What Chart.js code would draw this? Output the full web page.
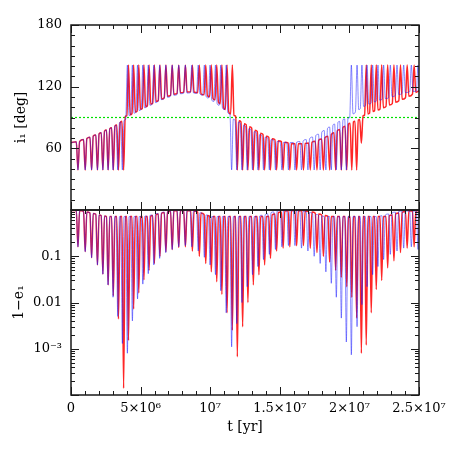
<!DOCTYPE html>
<html>
<head>
<meta charset="utf-8">
<script src="https://cdn.jsdelivr.net/npm/chart.js@4.4.1/dist/chart.umd.min.js"></script>
<style>
html,body{margin:0;padding:0;background:#fff;}
#wrap{position:relative;width:458px;height:458px;}
canvas{position:absolute;left:0;top:0;}
</style>
</head>
<body>
<div id="wrap"><canvas id="cTop" width="458" height="458"></canvas><canvas id="cBot" width="458" height="458"></canvas></div>
<script>
// ---------- tick labels ----------
const xTickValues = [0, 5e6, 1e7, 1.5e7, 2e7, 2.5e7];
const xTickLabels = ['0', '5×10⁶', '10⁷', '1.5×10⁷', '2×10⁷', '2.5×10⁷'];
const inclTickValues = [60, 120, 180];
const inclTickLabels = ['60', '120', '180'];
const eccTickValues = [0.1, 0.01, 0.001];
const eccTickLabels = ['0.1', '0.01', '10⁻³'];
const flipInclination = 90;

// ---------- red run: time (Myr), inclination (deg), 1-e ----------
const redTimeMyr = [0.00,0.38,
0.50,0.62,0.90, 1.02,1.14,1.36, 1.48,1.60,1.78, 1.90,2.02,2.17, 2.29,2.41,2.55,
2.67,2.79,2.92, 3.04,3.16,3.29, 3.41,3.53,3.66, 3.78,3.90,4.01, 4.13,4.25,4.38,
4.50,4.62,4.75, 4.87,4.99,5.12, 5.24,5.36,5.49, 5.61,5.73,5.87, 5.99,6.11,6.27,
6.39,6.51,6.70, 6.82,6.94,7.15, 7.27,7.39,7.62, 7.74,7.86,8.10, 8.22,8.34,8.60,
8.72,8.84,9.10, 9.22,9.34,9.56, 9.68,9.80,9.96, 10.08,10.20,10.35, 10.47,10.59,10.72,
10.84,10.96,11.09, 11.21,11.33,11.47, 11.59,11.71,11.83, 11.95,12.07,12.21, 12.33,12.45,12.59,
12.71,12.83,12.98, 13.10,13.22,13.38, 13.50,13.62,13.79, 13.91,14.03,14.21, 14.33,14.45,14.65,
14.77,14.89,15.12, 15.24,15.36,15.60, 15.72,15.84,16.09, 16.21,16.33,16.58, 16.70,16.82,17.07,
17.19,17.31,17.55, 17.67,17.79,18.01, 18.13,18.25,18.46, 18.58,18.70,18.89, 19.01,19.13,19.30,
19.42,19.54,19.69, 19.81,19.93,20.05, 20.17,20.29,20.40, 20.52,20.64,20.74, 20.86,20.98,21.09,
21.21,21.33,21.45, 21.57,21.69,21.81, 21.93,22.05,22.20, 22.32,22.44,22.63, 22.75,22.87,23.08,
23.20,23.32,23.55, 23.67,23.79,24.03, 24.15,24.27,24.53, 24.65,24.77,25.00];
const redIncl = [65.5,66.3,
39,66.7,68.5, 39,69.5,70.8, 39,72,73, 39,74.2,75.2, 39,76.8,77.8,
39,79.2,80, 39,81.8,82.8, 39,84.8,86.3, 39,91,91.7, 141,92.6,93.8,
141,95.3,96.2, 141,98,98.8, 141,100.5,101.4, 141,103,104, 141,105.7,106.6,
141,108,109.2, 141,110.6,111.6, 141,112.6,113.4, 141,114.1,114.7, 141,114.9,115,
141,114.8,114.1, 141,113.2,112.1, 141,111.2,110.3, 141,108.4,107.2, 141,105.1,103.4,
141,99.5,97.8, 141,95.6,93.4, 141,92,91.2, 39,86.8,85.8, 39,84,82.8,
39,81,79.7, 39,77.7,76.5, 39,74.7,73.5, 39,71.8,70.7, 39,69.3,68.4,
39,67.4,66.6, 39,65.9,65.3, 39,64.8,64.5, 39,64.5,64.5, 39,64.8,65.2,
39,65.9,66.9, 39,67.9,69, 39,70.5,71.8, 39,73.4,75.2, 39,77,78.4,
39,80.3,81.5, 39,83.5,84.4, 39,85.7,86.4, 39,87.6,88, 65,91.7,92.3,
141,93.4,94.2, 141,95.9,96.5, 141,97.3,98.2, 141,99.6,100.8, 141,102.2,103.5,
141,104.9,106.3, 141,107.7,109.2, 141,110.6,112.7, 141,114.4,116];
const redOneMinusE = [0.97,0.97,
0.16,0.97,0.93, 0.126,0.9,0.87, 0.093,0.84,0.81, 0.065,0.78,0.76, 0.041,0.74,0.72,
0.024,0.72,0.72, 0.014,0.72,0.72, 0.0044,0.72,0.72, 1.4e-4,0.72,0.72, 1.5e-3,0.72,0.72,
7.2e-3,0.72,0.72, 0.016,0.72,0.72, 0.031,0.72,0.72, 0.05,0.73,0.76, 0.07,0.79,0.82,
0.1,0.85,0.88, 0.125,0.91,0.94, 0.14,0.96,0.97, 0.155,0.97,0.97, 0.16,0.97,0.96,
0.13,0.95,0.9, 0.1,0.86,0.8, 0.07,0.76,0.73, 0.046,0.72,0.72, 0.028,0.72,0.72,
0.015,0.72,0.72, 0.006,0.72,0.72, 2.5e-3,0.72,0.72, 6.7e-4,0.72,0.72, 3e-3,0.72,0.72,
0.01,0.72,0.72, 0.024,0.72,0.72, 0.04,0.72,0.72, 0.065,0.72,0.73, 0.09,0.78,0.82,
0.13,0.88,0.91, 0.15,0.95,0.97, 0.16,0.97,0.97, 0.17,0.97,0.96, 0.17,0.95,0.92,
0.15,0.9,0.85, 0.12,0.82,0.78, 0.1,0.76,0.73, 0.075,0.72,0.72, 0.05,0.72,0.72,
0.035,0.72,0.72, 0.022,0.72,0.72, 0.013,0.72,0.72, 4.6e-3,0.72,0.72, 8e-4,0.72,0.72,
1.2e-3,0.72,0.72, 6e-3,0.72,0.72, 0.019,0.72,0.72, 0.03,0.72,0.72, 0.056,0.75,0.78,
0.08,0.82,0.86, 0.12,0.89,0.93, 0.15,0.95,0.96, 0.16,0.96,0.96];

// ---------- blue run ----------
const blueTimeMyr = [0.00,0.38,
0.50,0.62,0.90, 1.02,1.14,1.36, 1.48,1.60,1.78, 1.90,2.02,2.17, 2.29,2.41,2.54,
2.66,2.78,2.90, 3.02,3.14,3.24, 3.36,3.48,3.57, 3.69,3.81,3.93, 4.05,4.17,4.29,
4.41,4.53,4.66, 4.78,4.90,5.04, 5.16,5.28,5.43, 5.55,5.67,5.83, 5.95,6.07,6.25,
6.37,6.49,6.69, 6.81,6.93,7.15, 7.27,7.39,7.62, 7.74,7.86,8.09, 8.21,8.33,8.56,
8.68,8.80,9.02, 9.14,9.26,9.46, 9.58,9.70,9.87, 9.99,10.11,10.26, 10.38,10.50,10.64,
10.76,10.88,11.03, 11.15,11.27,11.42, 11.54,11.66,11.79, 11.91,12.03,12.16, 12.28,12.40,12.54,
12.66,12.78,12.92, 13.04,13.16,13.31, 13.43,13.55,13.71, 13.83,13.95,14.13, 14.25,14.37,14.57,
14.69,14.81,15.03, 15.15,15.27,15.50, 15.62,15.74,15.97, 16.09,16.21,16.44, 16.56,16.68,16.90,
17.02,17.14,17.35, 17.47,17.59,17.78, 17.90,18.02,18.19, 18.31,18.43,18.58, 18.70,18.82,18.94,
19.06,19.18,19.30, 19.42,19.54,19.66, 19.78,19.90,20.02, 20.14,20.26,20.43, 20.55,20.67,20.78,
20.90,21.02,21.15, 21.27,21.39,21.55, 21.67,21.79,21.93, 22.05,22.17,22.34, 22.46,22.58,22.82,
22.94,23.06,23.30, 23.42,23.54,23.78, 23.90,24.02,24.33, 24.45,24.57,24.81, 24.93,25.00];
const blueIncl = [65.5,66.3,
39,66.7,68.5, 39,69.5,70.8, 39,72,73, 39,74.2,75.2, 39,76.8,77.7,
39,79.1,79.9, 39,81.4,82.4, 39,84.8,85.7, 39,87.2,88.2, 141,92,92.9,
141,94.2,95.1, 141,96.8,97.8, 141,99.5,100.5, 141,101.9,102.9, 141,104.5,105.7,
141,107.4,108.5, 141,109.7,110.8, 141,111.6,112.4, 141,113.1,113.6, 141,113.8,114,
141,113.9,113.5, 141,113,111.7, 141,110.7,109, 141,107,105.6, 141,103.5,101.9,
141,99.4,97.7, 141,94.6,92.8, 39,88.4,87, 39,85.6,84.5, 39,82.4,81.2,
39,79.2,78, 39,76.3,75.2, 39,73.4,72.3, 39,70.8,69.8, 39,68.4,67.5,
39,66.8,66.1, 39,65.8,65.5, 39,65.5,65.6, 39,66,66.6, 39,67.2,68.5,
39,69.3,71, 39,72.5,73.7, 39,75.8,77.3, 39,79.4,80.7, 39,82.7,83.6,
39,85.4,86.2, 39,88,88.6, 39,89.5,89.8, 141,93.6,95.3, 141,97.7,98.7,
141,100.8,101.6, 141,103.1,104, 141,105.2,105.9, 141,106.9,107.6, 141,108.4,109.3,
141,110.4,111.4, 141,112.4,113.3, 141,114.3,115.1, 141,115.4,115.5, 141,115];
const blueOneMinusE = [0.97,0.97,
0.16,0.97,0.93, 0.126,0.9,0.87, 0.093,0.84,0.81, 0.065,0.78,0.76, 0.041,0.74,0.72,
0.024,0.72,0.72, 0.013,0.72,0.72, 0.005,0.72,0.72, 1.3e-3,0.72,0.72, 8e-4,0.72,0.72,
4e-3,0.72,0.72, 0.012,0.72,0.72, 0.025,0.72,0.74, 0.042,0.76,0.78, 0.065,0.8,0.84,
0.09,0.86,0.9, 0.12,0.92,0.95, 0.14,0.97,0.97, 0.16,0.97,0.97, 0.17,0.97,0.96,
0.16,0.94,0.9, 0.13,0.87,0.82, 0.095,0.78,0.74, 0.065,0.72,0.72, 0.04,0.72,0.72,
0.018,0.72,0.72, 0.006,0.72,0.72, 1.1e-3,0.72,0.72, 3.5e-3,0.72,0.72, 0.01,0.72,0.72,
0.022,0.72,0.72, 0.04,0.72,0.72, 0.06,0.74,0.77, 0.085,0.79,0.83, 0.11,0.88,0.91,
0.14,0.95,0.97, 0.16,0.97,0.97, 0.17,0.97,0.97, 0.17,0.97,0.95, 0.15,0.93,0.9,
0.13,0.88,0.84, 0.1,0.8,0.77, 0.07,0.74,0.72, 0.046,0.72,0.72, 0.026,0.72,0.72,
0.013,0.72,0.72, 4.6e-3,0.72,0.72, 1.4e-3,0.72,0.72, 7.4e-4,0.72,0.72, 3e-3,0.72,0.72,
9e-3,0.72,0.72, 0.022,0.72,0.72, 0.04,0.72,0.72, 0.06,0.72,0.75, 0.085,0.78,0.82,
0.11,0.86,0.9, 0.13,0.93,0.95, 0.15,0.95,0.95, 0.16,0.95,0.95, 0.14,0.95];

// ---------- helpers ----------
const FONT_FAMILY = "'DejaVu Serif', serif";
const tickFont = {family: FONT_FAMILY, size: 13};
const titleFont = {family: FONT_FAMILY, size: 14};
const RED = 'rgba(255,0,0,0.85)';
const BLUE = 'rgba(20,20,255,0.5)';

function toPoints(ts, vs) {
  const n = Math.min(ts.length, vs.length);
  if (ts.length !== vs.length) console.error('length mismatch', ts.length, vs.length);
  const out = [];
  for (let k = 0; k < n; k++) out.push({x: ts[k] * 1e6, y: vs[k]});
  return out;
}

const xMinor = [];
for (let k = 0; k <= 25; k++) if (k % 5) xMinor.push(k * 1e6);
const inclMajor = [0, 60, 120, 180];
const inclMinor = [];
for (let v = 10; v < 180; v += 10) if (v % 60) inclMinor.push(v);
const eccMajor = [1e-4, 1e-3, 1e-2, 1e-1, 1];
const eccMinor = [];
for (let d = -4; d < 0; d++) for (let m = 2; m <= 9; m++) eccMinor.push(m * Math.pow(10, d));

function makeFrame(id, yMajor, yMinor) {
  return {
    id,
    afterDatasetsDraw(chart) {
      const {ctx, chartArea: a} = chart;
      const xs = chart.scales.x, ys = chart.scales.y;
      ctx.save();
      ctx.strokeStyle = '#1a1a1a';
      ctx.lineWidth = 1;
      ctx.beginPath();
      const xt = (vals, len) => vals.forEach(v => {
        const p = Math.round(xs.getPixelForValue(v)) + 0.5;
        ctx.moveTo(p, a.top); ctx.lineTo(p, a.top + len);
        ctx.moveTo(p, a.bottom); ctx.lineTo(p, a.bottom - len);
      });
      const yt = (vals, len) => vals.forEach(v => {
        const p = Math.round(ys.getPixelForValue(v)) + 0.5;
        ctx.moveTo(a.left, p); ctx.lineTo(a.left + len, p);
        ctx.moveTo(a.right, p); ctx.lineTo(a.right - len, p);
      });
      xt(xTickValues, 8); xt(xMinor, 4);
      yt(yMajor, 8); yt(yMinor, 4);
      ctx.stroke();
      ctx.lineWidth = 1.5;
      ctx.strokeRect(a.left, a.top, a.right - a.left, a.bottom - a.top);
      ctx.restore();
    }
  };
}

const commonLine = {
  pointRadius: 0, fill: false, cubicInterpolationMode: 'monotone'
};

// ---------- top panel: inclination ----------
new Chart(document.getElementById('cTop'), {
  type: 'line',
  data: {
    datasets: [
      Object.assign({data: toPoints(blueTimeMyr, blueIncl), borderColor: BLUE, borderWidth: 1, order: 0}, commonLine),
      Object.assign({data: toPoints(redTimeMyr, redIncl), borderColor: RED, borderWidth: 1.5, order: 1}, commonLine),
      {data: [{x: 0, y: flipInclination}, {x: 2.5e7, y: flipInclination}], borderColor: '#00e000',
       borderWidth: 1.2, borderDash: [2, 2], pointRadius: 0, order: 2}
    ]
  },
  options: {
    responsive: false, animation: false, devicePixelRatio: 1,
    parsing: false, normalized: true,
    plugins: {legend: {display: false}, tooltip: {enabled: false}},
    layout: {padding: {left: 0, top: 25, right: 39, bottom: 248}},
    scales: {
      x: {type: 'linear', min: 0, max: 2.5e7, display: false},
      y: {
        type: 'linear', min: 0, max: 180,
        afterBuildTicks: s => { s.ticks = inclTickValues.map(v => ({value: v})); },
        afterFit: s => { s.width = 71; },
        ticks: {callback: (v, i) => inclTickLabels[i], font: tickFont, color: '#000', padding: 9},
        grid: {display: false, drawTicks: false},
        border: {display: false},
        title: {display: true, text: 'i₁ [deg]', font: titleFont, color: '#000', padding: {top: 13, bottom: 0}}
      }
    }
  },
  plugins: [makeFrame('frameTop', inclMajor, inclMinor)]
});

// ---------- bottom panel: 1 - e ----------
new Chart(document.getElementById('cBot'), {
  type: 'line',
  data: {
    datasets: [
      Object.assign({data: toPoints(blueTimeMyr, blueOneMinusE), borderColor: BLUE, borderWidth: 1, order: 0}, commonLine),
      Object.assign({data: toPoints(redTimeMyr, redOneMinusE), borderColor: RED, borderWidth: 1.5, order: 1}, commonLine)
    ]
  },
  options: {
    responsive: false, animation: false, devicePixelRatio: 1,
    parsing: false, normalized: true,
    plugins: {legend: {display: false}, tooltip: {enabled: false}},
    layout: {padding: {left: 0, top: 210, right: 39, bottom: 0}},
    scales: {
      x: {
        type: 'linear', min: 0, max: 2.5e7, position: 'bottom',
        afterBuildTicks: s => { s.ticks = xTickValues.map(v => ({value: v})); },
        afterFit: s => { s.height = 63; },
        ticks: {callback: (v, i) => xTickLabels[i], font: tickFont, color: '#000', padding: 6,
                autoSkip: false, maxRotation: 0, minRotation: 0},
        grid: {display: false, drawTicks: false},
        border: {display: false},
        title: {display: true, text: 't [yr]', font: titleFont, color: '#000', padding: {top: 0, bottom: 22}}
      },
      y: {
        type: 'logarithmic', min: 1e-4, max: 1,
        afterBuildTicks: s => { s.ticks = eccTickValues.map(v => ({value: v})); },
        afterFit: s => { s.width = 71; },
        ticks: {callback: (v, i) => eccTickLabels[i], font: tickFont, color: '#000', padding: 9},
        grid: {display: false, drawTicks: false},
        border: {display: false},
        title: {display: true, text: '1−e₁', font: titleFont, color: '#000', padding: {top: 11, bottom: 0}}
      }
    }
  },
  plugins: [makeFrame('frameBot', eccMajor, eccMinor)]
});
</script>
</body>
</html>
